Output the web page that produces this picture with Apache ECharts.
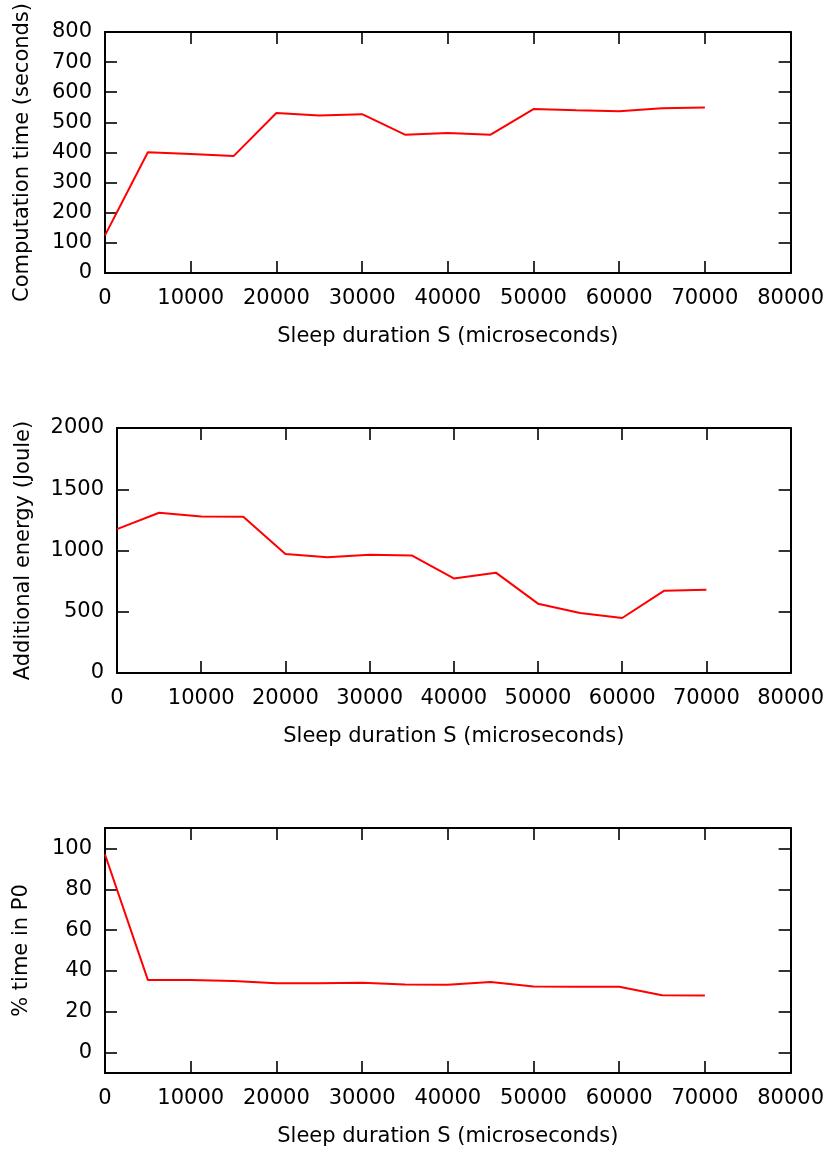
<!DOCTYPE html>
<html>
<head>
<meta charset="utf-8">
<script src="https://cdn.jsdelivr.net/npm/echarts@6/dist/echarts.min.js"></script>
<style>
  html, body { margin: 0; padding: 0; background: #fff; }
  #chart { width: 827px; height: 1151px; }
</style>
</head>
<body>
<div id="chart"></div>
<script>
// Sleep duration S between work chunks (microseconds)
const sleepUs = [0, 5000, 10000, 15000, 20000, 25000, 30000, 35000, 40000, 45000, 50000, 55000, 60000, 65000, 70000];
// Total computation time (seconds)
const computeTime = [125, 401, 395, 388, 531, 523, 527, 459, 465, 459, 544, 540, 537, 547, 549];
// Additional energy consumed (Joule)
const extraEnergy = [1175, 1308, 1278, 1276, 971, 944, 966, 960, 772, 819, 566, 490, 449, 672, 680];
// Share of time spent in P0 state (%)
const p0Share = [97, 35.6, 35.5, 35.1, 34, 34, 34.2, 33.3, 33.2, 34.6, 32.4, 32.2, 32.2, 28.1, 27.9];

const xTicks = { min: 0, max: 80000, interval: 10000 };
const p0TickValues = [0, 20, 40, 60, 80, 100];

const FONT = 'DejaVu Sans';
const FS = 21;
const INK = '#000';

const panels = [
  { left: 105, top: 28, yName: 'Computation time (seconds)', nameGap: 72,
    y: { min: 0, max: 800, interval: 100 }, values: computeTime },
  { left: 117, top: 428, yName: 'Additional energy (Joule)', nameGap: 83,
    y: { min: 0, max: 2000, interval: 500 }, values: extraEnergy },
  { left: 105, top: 828, yName: '% time in P0', nameGap: 73,
    y: { min: -10, max: 110 }, custom: p0TickValues, values: p0Share }
];

const plain = v => String(v);
const tickStyle = { inside: true, length: 12, lineStyle: { color: INK, width: 1.6 } };
const lineStyle = { show: true, onZero: false, lineStyle: { color: INK, width: 2 } };
const labelStyle = { color: INK, fontFamily: FONT, fontSize: FS };

const grid = [], xAxis = [], yAxis = [], series = [];

panels.forEach((p, i) => {
  grid.push({ left: p.left, top: p.top, right: 35, height: 245 });

  // bottom axis with labels, top axis mirrors ticks only
  xAxis.push({
    type: 'value', gridIndex: i, position: 'bottom', ...xTicks,
    name: 'Sleep duration S (microseconds)', nameLocation: 'middle', nameGap: 53,
    nameTextStyle: labelStyle,
    axisLine: lineStyle, axisTick: tickStyle, splitLine: { show: false },
    axisLabel: { ...labelStyle, margin: 15, formatter: plain, showMinLabel: true, showMaxLabel: true }
  });
  xAxis.push({
    type: 'value', gridIndex: i, position: 'top', ...xTicks,
    axisLine: lineStyle, axisTick: tickStyle, splitLine: { show: false },
    axisLabel: { show: false }
  });

  const yTick = p.custom ? { ...tickStyle, customValues: p.custom } : tickStyle;
  const yLabel = { ...labelStyle, margin: 13, formatter: plain, showMinLabel: true, showMaxLabel: true };
  if (p.custom) yLabel.customValues = p.custom;

  yAxis.push({
    type: 'value', gridIndex: i, position: 'left', ...p.y,
    name: p.yName, nameLocation: 'middle', nameGap: p.nameGap, nameRotate: 90,
    nameTextStyle: labelStyle,
    axisLine: lineStyle, axisTick: yTick, splitLine: { show: false },
    axisLabel: yLabel
  });
  yAxis.push({
    type: 'value', gridIndex: i, position: 'right', ...p.y,
    axisLine: lineStyle, axisTick: yTick, splitLine: { show: false },
    axisLabel: { show: false }
  });

  series.push({
    type: 'line', xAxisIndex: 2 * i, yAxisIndex: 2 * i,
    data: sleepUs.map((s, k) => [s, p.values[k]]),
    showSymbol: false, animation: false,
    lineStyle: { color: '#ff0000', width: 2 }
  });
});

const chart = echarts.init(document.getElementById('chart'), null, { renderer: 'canvas' });
chart.setOption({
  backgroundColor: '#fff',
  animation: false,
  grid, xAxis, yAxis, series
});
</script>
</body>
</html>
